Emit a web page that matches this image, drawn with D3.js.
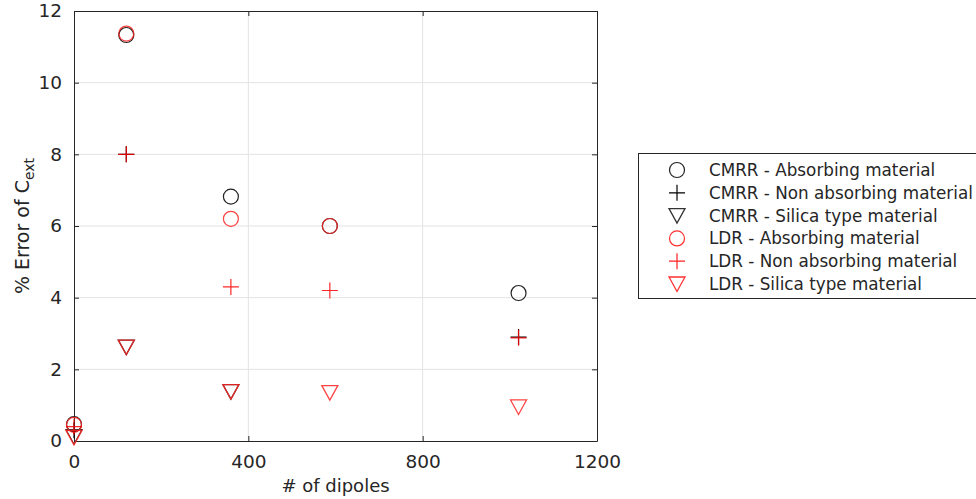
<!DOCTYPE html>
<html><head><meta charset="utf-8">
<script src="https://cdn.jsdelivr.net/npm/d3@7"></script>
<style>body{margin:0;background:#fff;} svg{display:block;}</style>
</head><body>
<svg id="c" width="976" height="499"></svg>
<script>
const xTicks = [0, 400, 800, 1200];
const yTicks = [0, 2, 4, 6, 8, 10, 12];
const cmrrAbsorbing = [[0, 0.47], [120, 11.33], [360, 6.82], [587, 6.0], [1020, 4.13]];
const cmrrNonAbs = [[0, 0.3], [120, 8.0], [1020, 2.9]];
const cmrrSilica = [[0, 0.12], [120, 2.62], [360, 1.38]];
const ldrAbsorbing = [[0, 0.45], [120, 11.37], [360, 6.2], [587, 6.0]];
const ldrNonAbs = [[0, 0.4], [120, 8.0], [360, 4.3], [587, 4.2], [1020, 2.88]];
const ldrSilica = [[0, 0.1], [120, 2.62], [360, 1.38], [587, 1.35], [1020, 0.95]];
const legendLabels = ["CMRR - Absorbing material", "CMRR - Non absorbing material", "CMRR - Silica type material",
  "LDR - Absorbing material", "LDR - Non absorbing material", "LDR - Silica type material"];

const svg = d3.select("#c");
const L = 74, R = 597, T = 11, B = 441;
const x = d3.scaleLinear().domain([0, 1200]).range([L, R]);
const y = d3.scaleLinear().domain([0, 12]).range([B, T]);
const axisCol = "#262626";
const font = "DejaVu Sans, Verdana, sans-serif";

// grid
const g = svg.append("g");
g.selectAll(".gx").data(xTicks.slice(1, -1)).join("line")
  .attr("x1", d => x(d)).attr("x2", d => x(d)).attr("y1", T).attr("y2", B)
  .attr("stroke", "#e3e3e3").attr("stroke-width", 1);
g.selectAll(".gy").data(yTicks.slice(1, -1)).join("line")
  .attr("y1", d => y(d)).attr("y2", d => y(d)).attr("x1", L).attr("x2", R)
  .attr("stroke", "#e3e3e3").attr("stroke-width", 1);

// axes
const fmt = d3.format("d");
const ax = d3.axisBottom(x).tickValues(xTicks).tickFormat(fmt).tickSize(-5).tickPadding(14).tickSizeOuter(0);
const ay = d3.axisLeft(y).tickValues(yTicks).tickFormat(fmt).tickSize(-5).tickPadding(12).tickSizeOuter(0);
const axT = d3.axisTop(x).tickValues(xTicks).tickSize(-5).tickFormat("").tickSizeOuter(0);
const ayR = d3.axisRight(y).tickValues(yTicks).tickSize(-5).tickFormat("").tickSizeOuter(0);
function style(sel) {
  sel.selectAll("path").attr("stroke", axisCol);
  sel.selectAll("line").attr("stroke", axisCol);
  sel.selectAll("text").attr("fill", axisCol).style("font-family", font).style("font-size", "18.5px");
}
svg.append("g").attr("transform", `translate(0,${B})`).call(ax).call(style);
svg.append("g").attr("transform", `translate(${L},0)`).call(ay).call(style);
svg.append("g").attr("transform", `translate(0,${T})`).call(axT).call(style);
svg.append("g").attr("transform", `translate(${R},0)`).call(ayR).call(style);

// axis labels
svg.append("text").attr("x", (L + R) / 2).attr("y", 492).attr("text-anchor", "middle")
  .attr("fill", axisCol).style("font-family", font).style("font-size", "18px").text("# of dipoles");
const yl = svg.append("text").attr("transform", `translate(29,${(T + B) / 2}) rotate(-90)`)
  .attr("text-anchor", "middle").attr("fill", axisCol).style("font-family", font).style("font-size", "19px");
yl.append("tspan").text("% Error of C");
yl.append("tspan").attr("dy", 5).style("font-size", "14px").text("ext");

// markers
function circle(sel, col) {
  sel.append("circle").attr("r", 7.5).attr("fill", "none").attr("stroke", col).attr("stroke-width", 1.2);
}
function plus(sel, col) {
  sel.append("path").attr("d", "M-8,0H8M0,-8V8").attr("fill", "none").attr("stroke", col).attr("stroke-width", 1.2);
}
function tri(sel, col) {
  sel.append("path").attr("d", "M-8,-7L8,-7L0,7.5Z").attr("fill", "none").attr("stroke", col).attr("stroke-width", 1.3)
    .attr("stroke-linejoin", "miter");
}
const series = [
  [cmrrAbsorbing, circle, "#222"], [cmrrNonAbs, plus, "#000"], [cmrrSilica, tri, "#333"],
  [ldrAbsorbing, circle, "#ff2020"], [ldrNonAbs, plus, "#ff0000"], [ldrSilica, tri, "#ff2020"]
];
series.forEach(([data, fn, col], i) => {
  const sg = svg.append("g").attr("opacity", i >= 3 ? 0.85 : 1);
  data.forEach(d => {
    const m = sg.append("g").attr("transform", `translate(${x(d[0])},${y(d[1])})`);
    fn(m, col);
  });
});

// legend
const lg = svg.append("g");
lg.append("rect").attr("x", 638.5).attr("y", 153.5).attr("width", 345).attr("height", 145)
  .attr("fill", "#fff").attr("stroke", axisCol).attr("stroke-width", 1);
const legCols = ["#222", "#000", "#333", "#ff3030", "#ff2020", "#ff3030"];
const legFns = [circle, plus, tri, circle, plus, tri];
legendLabels.forEach((t, i) => {
  const yy = 170 + i * 22.8;
  const m = lg.append("g").attr("transform", `translate(677,${yy})`);
  legFns[i](m, legCols[i]);
  lg.append("text").attr("x", 709).attr("y", yy + 6).attr("fill", axisCol)
    .style("font-family", font).style("font-size", "16.8px").text(t);
});
</script>
</body></html>
